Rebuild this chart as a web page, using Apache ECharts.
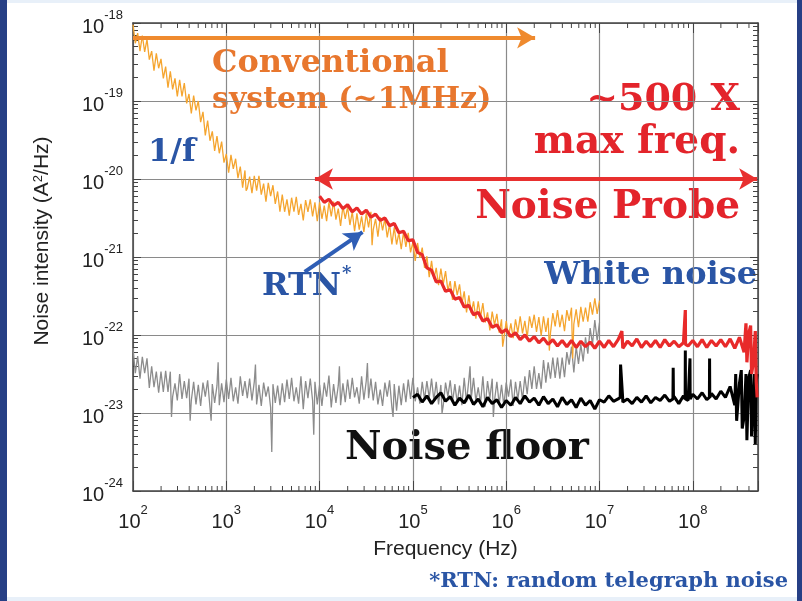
<!DOCTYPE html>
<html>
<head>
<meta charset="utf-8">
<style>html,body{margin:0;padding:0;background:#fff}#chart{width:802px;height:601px}</style>
<script src="https://cdn.jsdelivr.net/npm/echarts@6/dist/echarts.min.js"></script>
</head>
<body>
<div id="chart"></div>
<script>
// fine frequency grid for the conventional system, log10(Hz)
var freqFine = [
  2.000,2.025,2.050,2.075,2.100,2.125,2.150,2.175,2.200,2.225,2.250,2.275,2.300,2.325,2.350,2.375,2.400,2.425,2.450,2.475,
  2.500,2.525,2.550,2.575,2.600,2.625,2.650,2.675,2.700,2.725,2.750,2.775,2.800,2.825,2.850,2.875,2.900,2.925,2.950,2.975,
  3.000,3.025,3.050,3.075,3.100,3.125,3.150,3.175,3.200,3.225,3.250,3.275,3.300,3.325,3.350,3.375,3.400,3.425,3.450,3.475,
  3.500,3.525,3.550,3.575,3.600,3.625,3.650,3.675,3.700,3.725,3.750,3.775,3.800,3.825,3.850,3.875,3.900,3.925,3.950,3.975,
  4.000,4.025,4.050,4.075,4.100,4.125,4.150,4.175,4.200,4.225,4.250,4.275,4.300,4.325,4.350,4.375,4.400,4.425,4.450,4.475,
  4.500,4.525,4.550,4.575,4.600,4.625,4.650,4.675,4.700,4.725,4.750,4.775,4.800,4.825,4.850,4.875,4.900,4.925,4.950,4.975,
  5.000,5.025,5.050,5.075,5.100,5.125,5.150,5.175,5.200,5.225,5.250,5.275,5.300,5.325,5.350,5.375,5.400,5.425,5.450,5.475,
  5.500,5.525,5.550,5.575,5.600,5.625,5.650,5.675,5.700,5.725,5.750,5.775,5.800,5.825,5.850,5.875,5.900,5.925,5.950,5.975,
  6.000,6.025,6.050,6.075,6.100,6.125,6.150,6.175,6.200,6.225,6.250,6.275,6.300,6.325,6.350,6.375,6.400,6.425,6.450,6.475,
  6.500,6.525,6.550,6.575,6.600,6.625,6.650,6.675,6.700,6.725,6.750,6.775,6.800,6.825,6.850,6.875,6.900,6.925,6.950,6.975,
  7.000
];
// coarser grid for the noise probe, log10(Hz)
var freqProbe = [
  4.00,4.05,4.10,4.15,4.20,4.25,4.30,4.35,4.40,4.45,4.50,4.55,4.60,4.65,4.70,4.75,4.80,4.85,4.90,4.95,
  5.00,5.05,5.10,5.15,5.20,5.25,5.30,5.35,5.40,5.45,5.50,5.55,5.60,5.65,5.70,5.75,5.80,5.85,5.90,5.95,
  6.00,6.05,6.10,6.15,6.20,6.25,6.30,6.35,6.40,6.45,6.50,6.55,6.60,6.65,6.70,6.75,6.80,6.85,6.90,6.95,
  7.00,7.05,7.10,7.15,7.20,7.25,7.30,7.35,7.40,7.45,7.50,7.55,7.60,7.65,7.70,7.75,7.80,7.85,7.90,7.95,
  8.00,8.05,8.10,8.15,8.20,8.25,8.30,8.35,8.40,8.45,8.50,8.55,8.60,8.65,8.69
];

// log10 of noise intensity (A^2/Hz)
// conventional system (orange), on freqFine
var conventionalExp = [
  -18.02,-18.26,-18.13,-18.36,-18.16,-18.37,-18.21,-18.47,-18.36,-18.61,
  -18.39,-18.58,-18.46,-18.71,-18.56,-18.83,-18.62,-18.85,-18.71,-18.94,
  -18.73,-18.94,-18.77,-19.03,-18.91,-19.16,-18.93,-19.12,-19.00,-19.27,
  -19.14,-19.44,-19.25,-19.51,-19.39,-19.64,-19.45,-19.67,-19.52,-19.79,
  -19.68,-19.92,-19.69,-19.87,-19.74,-19.99,-19.84,-20.11,-19.89,-20.12,
  -19.97,-20.18,-19.96,-20.15,-19.96,-20.20,-20.06,-20.29,-20.05,-20.22,
  -20.08,-20.32,-20.16,-20.42,-20.20,-20.42,-20.26,-20.47,-20.24,-20.42,
  -20.23,-20.46,-20.32,-20.53,-20.27,-20.42,-20.26,-20.48,-20.30,-20.54,
  -20.30,-20.51,-20.34,-20.54,-20.30,-20.48,-20.29,-20.52,-20.38,-20.60,
  -20.35,-20.51,-20.36,-20.59,-20.42,-20.67,-20.44,-20.65,-20.48,-20.68,
  -20.44,-20.62,-20.42,-20.65,-20.51,-20.74,-20.49,-20.66,-20.51,-20.75,
  -20.58,-20.84,-20.62,-20.84,-20.69,-20.90,-20.68,-20.87,-20.69,-20.94,
  -20.81,-21.05,-20.82,-21.01,-20.88,-21.14,-20.99,-21.26,-21.05,-21.28,
  -21.14,-21.36,-21.15,-21.35,-21.18,-21.43,-21.31,-21.55,-21.31,-21.49,
  -21.35,-21.60,-21.44,-21.71,-21.49,-21.72,-21.57,-21.79,-21.57,-21.77,
  -21.59,-21.84,-21.71,-21.94,-21.70,-21.87,-21.73,-21.97,-21.80,-22.05,
  -21.82,-22.02,-21.85,-22.04,-21.80,-21.97,-21.76,-21.98,-21.82,-22.03,
  -21.76,-21.91,-21.74,-21.96,-21.77,-22.01,-21.76,-21.96,-21.78,-21.97,
  -21.72,-21.89,-21.68,-21.90,-21.74,-21.95,-21.68,-21.82,-21.65,-21.86,
  -21.67,-21.90,-21.64,-21.83,-21.65,-21.83,-21.58,-21.74,-21.53,-21.73,
  -21.56
];
var conventionalSpikes = [[3.2125,-20.15],[4.5625,-20.85],[5.9625,-22.15],[6.4625,-22.20],[6.7125,-22.30]];

// conventional system noise floor (grey), on freqFine
var convFloorExp = [
  -22.17,-22.49,-22.27,-22.56,-22.28,-22.49,-22.30,-22.68,-22.40,-22.67,
  -22.47,-22.74,-22.47,-22.73,-22.46,-22.73,-22.47,-22.79,-22.62,-22.84,
  -22.50,-22.82,-22.59,-22.81,-22.56,-22.84,-22.60,-22.89,-22.64,-22.91,
  -22.61,-22.79,-22.58,-22.93,-22.63,-22.87,-22.65,-22.90,-22.62,-22.86,
  -22.57,-22.82,-22.55,-22.85,-22.67,-22.88,-22.53,-22.78,-22.59,-22.81,
  -22.56,-22.84,-22.60,-22.89,-22.64,-22.91,-22.61,-22.79,-22.66,-22.93,
  -22.63,-22.87,-22.65,-22.90,-22.62,-22.86,-22.57,-22.82,-22.55,-22.85,
  -22.67,-22.88,-22.53,-22.95,-22.59,-22.81,-22.56,-22.84,-22.60,-22.89,
  -22.64,-22.91,-22.61,-22.79,-22.52,-22.93,-22.63,-22.87,-22.65,-22.90,
  -22.62,-22.86,-22.57,-22.82,-22.55,-22.80,-22.67,-22.88,-22.53,-22.83,
  -22.59,-22.81,-22.56,-22.84,-22.60,-22.89,-22.70,-22.91,-22.61,-22.79,
  -22.58,-22.93,-22.63,-22.97,-22.65,-22.90,-22.62,-22.86,-22.57,-22.82,
  -22.55,-22.85,-22.67,-22.88,-22.60,-22.83,-22.59,-22.81,-22.56,-22.84,
  -22.60,-22.89,-22.64,-22.91,-22.61,-22.79,-22.58,-22.86,-22.63,-22.87,
  -22.65,-22.90,-22.55,-22.86,-22.57,-22.82,-22.55,-22.85,-22.67,-22.88,
  -22.53,-22.92,-22.59,-22.81,-22.56,-22.84,-22.60,-22.89,-22.64,-22.91,
  -22.61,-22.79,-22.57,-22.91,-22.60,-22.83,-22.59,-22.83,-22.53,-22.76,
  -22.45,-22.69,-22.40,-22.69,-22.49,-22.69,-22.32,-22.61,-22.35,-22.56,
  -22.29,-22.55,-22.29,-22.56,-22.29,-22.54,-22.22,-22.38,-22.15,-22.48,
  -22.15,-22.37,-22.12,-22.34,-22.03,-22.24,-21.91,-22.12,-21.81,-22.07,
  -21.84
];
var convFloorSpikes = [[2.4125,-23.05],[2.6125,-23.10],[2.8375,-23.10],[2.9125,-22.35],[3.3125,-22.38],
  [3.4875,-23.50],[3.9375,-23.28],[4.2125,-22.40],[4.5125,-22.36],[4.7875,-23.05],[5.3125,-23.00],
  [5.6125,-22.40],[5.8625,-23.05]];

// noise probe (red), on freqProbe from index 0
var probeExp = [
  -20.22,-20.30,-20.26,-20.34,-20.30,-20.38,-20.33,-20.42,-20.37,-20.45,
  -20.40,-20.49,-20.45,-20.53,-20.50,-20.60,-20.57,-20.69,-20.67,-20.79,
  -20.78,-20.94,-20.97,-21.14,-21.17,-21.32,-21.31,-21.44,-21.42,-21.54,
  -21.52,-21.64,-21.62,-21.74,-21.71,-21.82,-21.79,-21.90,-21.87,-21.97,
  -21.93,-22.02,-21.97,-22.06,-22.00,-22.08,-22.02,-22.10,-22.04,-22.12,
  -22.06,-22.14,-22.07,-22.15,-22.07,-22.16,-22.08,-22.15,-22.09,-22.17,
  -22.08,-22.16,-22.07,-22.15,-22.06,-22.17,-22.08,-22.14,-22.05,-22.16,
  -22.08,-22.15,-22.07,-22.16,-22.06,-22.14,-22.08,-22.15,-22.10,-22.14,
  -22.07,-22.15,-22.06,-22.16,-22.07,-22.14,-22.06,-22.15,-22.05,-22.17,
  -22.03,-22.22,-21.98,-22.35,-22.80
];
var probeSpikes = [[7.24,-21.95],[7.918,-22.12],[7.92,-21.68],[7.922,-22.12],
  [8.57,-21.85],[8.58,-22.35],[8.62,-21.88],[8.63,-22.50],[8.67,-21.95],[8.68,-22.60]];

// noise probe noise floor (black), on freqProbe from index 20
var probeFloorExp = [
  -22.80,-22.76,-22.86,-22.78,-22.88,-22.80,-22.74,-22.85,-22.79,-22.90,
  -22.81,-22.87,-22.77,-22.89,-22.82,-22.92,-22.80,-22.88,-22.83,-22.93,
  -22.84,-22.90,-22.80,-22.88,-22.78,-22.86,-22.81,-22.90,-22.79,-22.88,
  -22.82,-22.92,-22.80,-22.89,-22.83,-22.93,-22.81,-22.90,-22.84,-22.95,
  -22.83,-22.86,-22.78,-22.85,-22.82,-22.86,-22.82,-22.88,-22.80,-22.86,
  -22.78,-22.87,-22.80,-22.84,-22.77,-22.85,-22.79,-22.88,-22.78,-22.84,
  -22.76,-22.82,-22.74,-22.83,-22.75,-22.82,-22.72,-22.80,-22.66,-22.90,
  -22.62,-23.05,-22.55,-23.30,-22.50
];
var probeFloorSpikes = [[7.222,-22.80],[7.226,-22.38],[7.244,-22.36],[7.248,-22.80],
  [7.787,-22.82],[7.79,-22.42],[7.793,-22.82],[7.918,-22.82],[7.92,-22.20],[7.922,-22.82],
  [7.968,-22.82],[7.97,-22.30],[7.972,-22.82],[8.178,-22.80],[8.18,-22.30],[8.182,-22.80],
  [8.46,-22.50],[8.47,-23.10],[8.52,-22.45],[8.53,-23.20],[8.57,-22.50],[8.58,-23.35],
  [8.62,-22.45],[8.63,-23.30],[8.66,-22.50],[8.67,-23.40],[8.68,-22.60]];

// annotation arrows [log10 f, log10 S]
var convArrow = [[2.00,-18.19],[6.31,-18.19]];
var probeArrow = [[3.95,-20.00],[8.69,-20.00]];
var rtnArrow = [[3.84,-21.19],[4.46,-20.68]];

var xDecades = [100,1e3,1e4,1e5,1e6,1e7,1e8];
var minorMult = [2,3,4,5,6,7,8,9];
var X_MAX = 5e8;

// y is plotted in units of 1e-24 A^2/Hz
var Y_OFF = 24;
function toPt(p){ return [Math.pow(10,p[0]), Math.pow(10,p[1]+Y_OFF)]; }
function build(grid, start, vals, spikes){
  var pts = [];
  for (var i=0;i<vals.length;i++) pts.push([grid[start+i], vals[i]]);
  spikes.forEach(function(s){ pts.push(s); });
  pts.sort(function(a,b){ return a[0]-b[0]; });
  return pts.map(toPt);
}
var xMinor = [];
xDecades.forEach(function(d){ minorMult.forEach(function(m){ if (d*m < X_MAX) xMinor.push([d*m, 1]); }); });

var FS = 'Liberation Sans';
var rich = {
  b: {fontFamily: FS, fontSize: 20, color: '#222', padding: [8,0,0,0]},
  s: {fontFamily: FS, fontSize: 13, color: '#222', verticalAlign: 'top'}
};
function fmt(off){
  return function(v){
    var e = Math.log(v)/Math.LN10, r = Math.round(e);
    if (Math.abs(e-r) > 1e-6) return '';
    return '{b|10}{s|' + (r-off) + '}';
  };
}
var lineCol = '#444', gridCol = '#8a8a8a';
var SERIF = '"DejaVu Serif"';

var option = {
  animation: false,
  backgroundColor: '#fff',
  grid: {left: 133, top: 23, right: 44, bottom: 110},
  xAxis: [{
    type: 'log', logBase: 10, min: 100, max: X_MAX, splitNumber: 7,
    axisLine: {lineStyle: {color: lineCol, width: 1.5}},
    axisTick: {inside: true, length: 10, lineStyle: {color: lineCol}},
    axisLabel: {margin: 13, formatter: fmt(0), rich: rich},
    splitLine: {show: true, lineStyle: {color: gridCol, width: 1.2}},
    name: 'Frequency (Hz)', nameLocation: 'middle', nameGap: 48,
    nameTextStyle: {fontFamily: FS, fontSize: 21, color: '#222'}
  }, {
    type: 'log', logBase: 10, min: 100, max: X_MAX, splitNumber: 7, position: 'top',
    axisLine: {lineStyle: {color: lineCol, width: 1.5}},
    axisTick: {inside: true, length: 10, lineStyle: {color: lineCol}},
    axisLabel: {show: false}, splitLine: {show: false}
  }],
  yAxis: [{
    type: 'log', logBase: 10, min: 1, max: 1e6, splitNumber: 6,
    axisLine: {lineStyle: {color: lineCol, width: 1.5}},
    axisTick: {inside: true, length: 8, lineStyle: {color: lineCol}},
    minorTick: {show: true, splitNumber: 9, length: 5, lineStyle: {color: lineCol}},
    axisLabel: {margin: 10, formatter: fmt(Y_OFF), rich: rich},
    splitLine: {show: true, lineStyle: {color: gridCol, width: 1.2}},
    name: 'Noise intensity (A{s|2}/Hz)', nameLocation: 'middle', nameGap: 80,
    nameTextStyle: {fontFamily: FS, fontSize: 21, color: '#222', padding: [0,0,0,32],
      rich: {s: {fontFamily: FS, fontSize: 13, color: '#222', verticalAlign: 'top'}}}
  }, {
    type: 'log', logBase: 10, min: 1, max: 1e6, splitNumber: 6, position: 'right',
    axisLine: {lineStyle: {color: lineCol, width: 1.5}},
    axisTick: {inside: true, length: 8, lineStyle: {color: lineCol}},
    minorTick: {show: true, splitNumber: 9, length: 5, lineStyle: {color: lineCol}},
    axisLabel: {show: false}, splitLine: {show: false}
  }],
  series: [{
    type: 'custom', name: 'xMinor', silent: true,
    renderItem: function(params, api){
      var v = api.value(0);
      var b = api.coord([v, 1]), t = api.coord([v, 1e6]);
      return {type: 'group', children: [
        {type: 'line', shape: {x1: b[0], y1: b[1], x2: b[0], y2: b[1]-5}, style: {stroke: lineCol, lineWidth: 1}},
        {type: 'line', shape: {x1: t[0], y1: t[1], x2: t[0], y2: t[1]+5}, style: {stroke: lineCol, lineWidth: 1}}
      ]};
    },
    data: xMinor
  }, {
    type: 'line', name: 'conv floor', showSymbol: false, silent: true,
    lineStyle: {color: '#8c8c8c', width: 1.3}, data: build(freqFine, 0, convFloorExp, convFloorSpikes)
  }, {
    type: 'line', name: 'conventional', showSymbol: false, silent: true,
    lineStyle: {color: '#f5a52f', width: 1.3}, data: build(freqFine, 0, conventionalExp, conventionalSpikes)
  }, {
    type: 'line', name: 'probe floor', showSymbol: false, silent: true,
    lineStyle: {color: '#000', width: 3}, data: build(freqProbe, 20, probeFloorExp, probeFloorSpikes)
  }, {
    type: 'line', name: 'noise probe', showSymbol: false, silent: true,
    lineStyle: {color: '#e82a2a', width: 3.2}, data: build(freqProbe, 0, probeExp, probeSpikes),
    markLine: {
      silent: true, animation: false, label: {show: false}, symbolSize: [16, 18],
      data: [
        [{coord: toPt(convArrow[0]), symbol: 'none', lineStyle: {color: '#ef8a2e', width: 4, type: 'solid'}},
         {coord: toPt(convArrow[1]), symbol: 'arrow'}],
        [{coord: toPt(probeArrow[0]), symbol: 'arrow', lineStyle: {color: '#e8302f', width: 4, type: 'solid'}},
         {coord: toPt(probeArrow[1]), symbol: 'arrow'}],
        [{coord: toPt(rtnArrow[0]), symbol: 'none', lineStyle: {color: '#2f5eb5', width: 4, type: 'solid'}},
         {coord: toPt(rtnArrow[1]), symbol: 'arrow'}]
      ]
    }
  }],
  graphic: [
    {type: 'rect', shape: {x: 0, y: 0, width: 7, height: 601}, style: {fill: '#263f85'}},
    {type: 'rect', shape: {x: 797, y: 0, width: 5, height: 601}, style: {fill: '#263f85'}},
    {type: 'rect', shape: {x: 7, y: 0, width: 790, height: 3}, style: {fill: '#e8f0f9'}},
    {type: 'rect', shape: {x: 7, y: 597, width: 790, height: 4}, style: {fill: '#e8f0f9'}},
    {type: 'text', x: 212, y: 64, style: {text: 'Conventional', font: 'bold 32px ' + SERIF, fill: '#e8772e', align: 'left', verticalAlign: 'middle'}},
    {type: 'text', x: 212, y: 100, style: {text: 'system (~1MHz)', font: 'bold 30px ' + SERIF, fill: '#e8772e', align: 'left', verticalAlign: 'middle'}},
    {type: 'text', x: 740, y: 100, style: {text: '~500 X', font: 'bold 38px ' + SERIF, fill: '#e3242b', align: 'right', verticalAlign: 'middle'}},
    {type: 'text', x: 740, y: 143, style: {text: 'max freq.', font: 'bold 39px ' + SERIF, fill: '#e3242b', align: 'right', verticalAlign: 'middle'}},
    {type: 'text', x: 740, y: 208, style: {text: 'Noise Probe', font: 'bold 39px ' + SERIF, fill: '#e3242b', align: 'right', verticalAlign: 'middle'}},
    {type: 'text', x: 757, y: 276, style: {text: 'White noise', font: 'bold 32px ' + SERIF, fill: '#2a55a5', align: 'right', verticalAlign: 'middle'}},
    {type: 'text', x: 148, y: 153, style: {text: '1/f', font: 'bold 32px ' + SERIF, fill: '#2a55a5', align: 'left', verticalAlign: 'middle'}},
    {type: 'text', x: 262, y: 287, style: {text: 'RTN', font: 'bold 32px ' + SERIF, fill: '#2a55a5', align: 'left', verticalAlign: 'middle'}},
    {type: 'text', x: 342, y: 274, style: {text: '*', font: 'bold 18px ' + SERIF, fill: '#2a55a5', align: 'left', verticalAlign: 'middle'}},
    {type: 'text', x: 345, y: 449, style: {text: 'Noise floor', font: 'bold 40px ' + SERIF, fill: '#111', align: 'left', verticalAlign: 'middle'}},
    {type: 'text', x: 788, y: 582, style: {text: '*RTN: random telegraph noise', font: 'bold 21px ' + SERIF, fill: '#2a55a5', align: 'right', verticalAlign: 'middle'}}
  ]
};
var myChart = echarts.init(document.getElementById('chart'));
myChart.setOption(option);
</script>
</body>
</html>
